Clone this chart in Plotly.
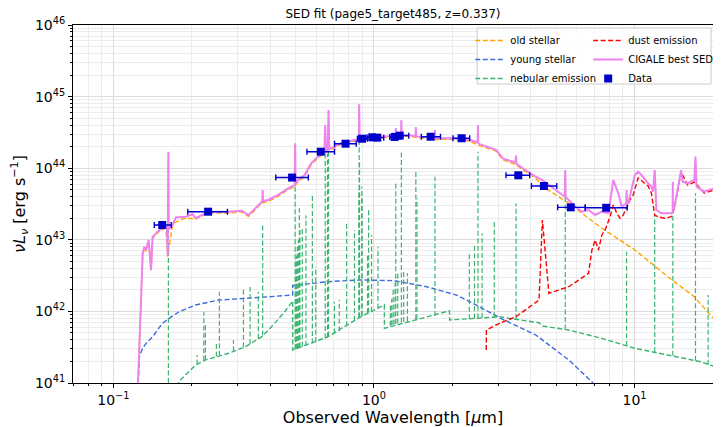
import plotly.graph_objects as go

# ---------------- data ----------------
# CIGALE best SED (violet)
cig_wl = [0.1235, 0.1259, 0.1278, 0.1296, 0.1315, 0.1335, 0.1366, 0.1395, 0.1414, 0.150,
          0.159, 0.1605, 0.1616, 0.1626, 0.1632, 0.168, 0.171, 0.1736, 0.1895, 0.2015,
          0.2068, 0.2324, 0.2768, 0.311, 0.330, 0.3498, 0.3705, 0.3729, 0.374, 0.3751,
          0.3928, 0.4288, 0.468, 0.4964, 0.4983, 0.500, 0.511, 0.5418, 0.574, 0.6085,
          0.645, 0.650, 0.655, 0.6645, 0.6694, 0.674, 0.7464, 0.8395, 0.8745, 0.8775,
          0.8805, 0.889, 0.943, 1.06, 1.191, 1.209, 1.2125, 1.216, 1.27, 1.274,
          1.278, 1.338, 1.444, 1.448, 1.452, 1.504, 1.709, 1.714, 1.719, 1.741,
          2.015, 2.33, 2.50, 2.507, 2.514, 2.543, 2.943, 3.12, 3.49, 3.507,
          3.525, 3.72, 4.18, 4.43, 4.98, 5.40, 5.42, 5.44, 5.93, 6.29,
          6.66, 7.06, 7.49, 7.94, 8.29, 8.66, 8.93, 9.28, 9.32, 9.36,
          9.46, 10.03, 10.32, 10.63, 11.27, 11.6, 11.77, 11.95, 12.13, 12.67,
          13.83, 14.0, 14.02, 14.04, 14.23, 14.87, 15.09, 15.3, 15.99, 16.96,
          17.13, 17.3, 18.5, 20.2]
cig_lum = [5e40, 4.0e41, 2.0e42, 6.5e42, 8.0e42, 7.2e42, 9.9e42, 3.8e42, 1.1e43, 1.37e43,
           1.52e43, 1.5e43, 6.1e42, 1.7e44, 1.4e43, 1.56e43, 1.8e43, 2.05e43, 2.1e43, 2.28e43,
           2.0e43, 2.47e43, 2.47e43, 2.55e43, 2.22e43, 2.75e43, 3.4e43, 3.45e43, 4.96e43, 3.48e43,
           3.6e43, 4.23e43, 5.24e43, 5.82e43, 2.23e44, 6.0e43, 6.84e43, 8.04e43, 1.17e44, 1.45e44,
           1.7e44, 4.0e44, 1.72e44, 1.8e44, 6.5e44, 1.85e44, 2.23e44, 2.48e44, 2.55e44, 7.8e44,
           2.56e44, 2.62e44, 2.75e44, 2.75e44, 2.82e44, 2.83e44, 3.64e44, 2.84e44, 2.88e44, 4.7e44,
           2.88e44, 2.91e44, 2.8e44, 3.76e44, 2.78e44, 2.75e44, 2.64e44, 3.42e44, 2.63e44, 2.62e44,
           2.62e44, 2.48e44, 2.3e44, 4.0e44, 2.25e44, 2.16e44, 1.8e44, 1.37e44, 1.2e44, 1.5e44,
           1.15e44, 9.97e43, 7.6e43, 6.84e43, 4.96e43, 4.0e43, 9.4e43, 3.95e43, 2.9e43, 2.47e43,
           2.61e43, 2.22e43, 2.47e43, 2.34e43, 6.84e43, 4.46e43, 2.9e43, 3.2e43, 4.96e43, 3.2e43,
           3.24e43, 8.04e43, 8.94e43, 8.04e43, 6.15e43, 5.52e43, 4.7e43, 9.4e43, 2.61e43, 2.34e43,
           2.34e43, 2.4e43, 6.48e43, 2.6e43, 2.9e43, 6.84e43, 9.4e43, 6.48e43, 6.15e43, 6.84e43,
           1.45e44, 5.52e43, 4.7e43, 5.24e43]

# old stellar (orange)
old_wl = [0.1235, 0.1259, 0.1278, 0.1296, 0.1315, 0.1335, 0.1366, 0.1395, 0.1414, 0.150,
          0.159, 0.1616, 0.168, 0.171, 0.1895, 0.2068, 0.2324, 0.2768, 0.311, 0.330,
          0.3498, 0.3705, 0.3928, 0.4288, 0.468, 0.4964, 0.511, 0.5418, 0.574, 0.6085,
          0.6452, 0.6645, 0.7464, 0.8395, 0.889, 0.943, 1.06, 1.191, 1.338, 1.504,
          1.741, 2.015, 2.33, 2.543, 2.943, 3.12, 3.507, 3.72, 4.18, 4.56,
          5.59, 7.49, 10.03, 13.42, 16.95, 20.2]
old_lum = [5e40, 3.9e41, 1.9e42, 6.2e42, 7.7e42, 6.9e42, 9.5e42, 3.6e42, 1.05e43, 1.32e43,
           1.46e43, 5.8e42, 1.48e43, 1.72e43, 2.02e43, 1.95e43, 2.38e43, 2.36e43, 2.45e43, 2.12e43,
           2.62e43, 3.25e43, 3.45e43, 4.05e43, 5.0e43, 5.55e43, 6.5e43, 7.65e43, 1.11e44, 1.38e44,
           1.62e44, 1.71e44, 2.14e44, 2.38e44, 2.5e44, 2.64e44, 2.66e44, 2.72e44, 2.8e44, 2.66e44,
           2.52e44, 2.53e44, 2.38e44, 2.07e44, 1.73e44, 1.32e44, 1.12e44, 9.5e43, 7.2e43, 5.24e43,
           3.24e43, 1.45e43, 7.2e42, 3.05e42, 1.6e42, 7.8e41]

# young stellar (blue)
young_wl = [0.1225, 0.1259, 0.1296, 0.1335, 0.1414, 0.1543, 0.1637, 0.1787, 0.2068, 0.2536,
            0.3204, 0.4875, 0.4876, 0.665, 0.889, 1.191, 1.595, 2.073, 2.33, 3.12,
            4.18, 5.59, 6.86, 7.3]
young_lum = [3e40, 2.33e41, 3.08e41, 3.58e41, 4.43e41, 6.82e41, 8.0e41, 9.9e41, 1.23e42, 1.44e42,
             1.52e42, 1.69e42, 2.3e42, 2.6e42, 2.75e42, 2.69e42, 2.21e42, 1.69e42, 1.37e42, 7.76e41,
             4.68e41, 2.1e41, 1.04e41, 7e40]

# nebular continuum (green)
neb_wl = [0.172, 0.1786, 0.2068, 0.2258, 0.2768, 0.3204, 0.3705, 0.4044, 0.4548, 0.4875,
          0.4876, 0.6645, 0.889, 1.096, 1.097, 1.595, 1.95, 1.951, 3.03, 4.30,
          4.43, 5.59, 7.49, 10.03, 13.42, 17.98, 20.2]
neb_lum = [7e40, 1.05e41, 1.78e41, 2.1e41, 2.6e41, 3.2e41, 4.4e41, 6.1e41, 9.9e41, 1.4e42,
           2.9e41, 4.4e41, 8.4e41, 1.23e42, 5.8e41, 8.4e41, 1.02e42, 7.6e41, 8.4e41, 6.95e41,
           6.25e41, 5.5e41, 4.2e41, 3.05e41, 2.46e41, 1.98e41, 1.7e41]

# nebular emission lines: wavelength, continuum level, peak
line_wl = [0.1626, 0.2096, 0.2224, 0.2255, 0.2485, 0.2552, 0.289, 0.3156, 0.3347, 0.360,
           0.374, 0.4983, 0.5014, 0.5042, 0.5078, 0.5127, 0.5173, 0.520, 0.5308, 0.5484,
           0.5803, 0.5978, 0.650, 0.663, 0.6694, 0.705, 0.736, 0.7856, 0.842, 0.8755,
           0.8775, 0.8803, 0.898, 0.900, 0.9446, 0.954, 0.979, 1.036, 1.156, 1.17,
           1.185, 1.205, 1.2125, 1.234, 1.274, 1.30, 1.3436, 1.448, 1.4624, 1.714,
           2.322, 2.431, 2.507, 2.60, 2.896, 3.51, 5.42, 9.32, 11.95, 14.02,
           17.13, 19.16]
line_base = [3e40, 1.82e41, 2.05e41, 2.1e41, 2.35e41, 2.4e41, 2.75e41, 3.15e41, 3.5e41, 4.15e41,
             4.6e41, 2.95e41, 2.97e41, 3.0e41, 3.02e41, 3.05e41, 3.1e41, 3.12e41, 3.2e41, 3.3e41,
             3.55e41, 3.7e41, 4.2e41, 4.35e41, 4.45e41, 4.9e41, 5.3e41, 6.2e41, 7.4e41, 8.1e41,
             8.2e41, 8.3e41, 8.6e41, 8.7e41, 9.4e41, 9.6e41, 1.0e42, 1.1e42, 6.3e41, 6.4e41,
             6.5e41, 6.6e41, 6.7e41, 6.8e41, 7.0e41, 7.1e41, 7.3e41, 7.7e41, 7.8e41, 8.6e41,
             7.8e41, 7.95e41, 8.0e41, 8.1e41, 8.3e41, 7.9e41, 5.6e41, 3.3e41, 2.72e41, 2.4e41,
             2.05e41, 1.8e41]
line_peak = [1.55e44, 2.46e41, 9.9e41, 6.8e41, 3.58e41, 1.88e42, 4.0e41, 2.0e42, 2.2e42, 1.88e42,
             1.6e43, 1.65e44, 5e42, 6e42, 8e42, 1.0e43, 2.75e43, 1.5e43, 1.52e43, 2.2e43,
             4.46e43, 4.2e42, 2.3e44, 1.6e44, 4.8e44, 1.36e42, 1.46e42, 1.79e43, 1.37e43, 5.0e43,
             5.2e44, 1.2e44, 5.5e43, 4.0e43, 6.5e42, 2.6e43, 1.17e43, 8e42, 1.3e42, 1.5e42,
             2e42, 2.5e42, 6.15e43, 3.5e42, 1.7e44, 3.8e42, 3.4e42, 9.4e43, 3.8e43, 7.6e43,
             6.5e42, 8.45e42, 1.7e44, 1.23e43, 1.89e43, 3.24e43, 6e43, 6.8e42, 2.22e43, 2.47e43,
             4.46e43, 1.7e42]

# dust emission (red)
dust_wl = [2.697, 2.70, 3.03, 3.507, 4.30, 4.43, 4.69, 5.59, 6.66, 6.86,
           7.06, 7.27, 7.49, 7.71, 8.05, 8.29, 8.55, 8.79, 9.05, 9.32,
           9.6, 9.88, 10.32, 11.27, 11.6, 11.95, 12.3, 13.04, 13.83, 14.23,
           15.09, 15.99, 16.96, 18.5, 20.2]
dust_lum = [2.89e41, 5.5e41, 6.82e41, 8.43e41, 1.44e42, 1.89e43, 1.79e42, 2.21e42, 3.4e42, 7.2e42,
            9.93e42, 7.2e42, 1.17e43, 1.37e43, 2.1e43, 3.06e43, 2.34e43, 2.0e43, 2.22e43, 2.9e43,
            3.6e43, 4.23e43, 7.3e43, 5.64e43, 4.5e43, 2.22e43, 2.1e43, 2.0e43, 2.1e43, 2.78e43,
            8.85e43, 5.82e43, 6.4e43, 4.5e43, 4.96e43]

# observed photometry
obs_wl = [0.154, 0.231, 0.485, 0.625, 0.778, 0.90, 0.985, 1.03, 1.20, 1.256,
          1.65, 2.17, 3.58, 4.49, 5.69, 7.78]
obs_lum = [1.61e43, 2.47e43, 7.4e43, 1.70e44, 2.2e44, 2.58e44, 2.7e44, 2.67e44, 2.73e44, 2.85e44,
           2.75e44, 2.62e44, 7.96e43, 5.64e43, 2.84e43, 2.8e43]
obs_wl_lo = [0.1436, 0.193, 0.42, 0.553, 0.706, 0.864, 0.94, 0.98, 1.15, 1.18,
             1.52, 2.01, 3.21, 4.02, 5.07, 6.47]
obs_wl_hi = [0.1667, 0.274, 0.56, 0.706, 0.855, 0.943, 1.04, 1.09, 1.26, 1.36,
             1.80, 2.33, 3.96, 5.03, 6.47, 9.37]
obs_err_frac = 0.05

x_tickvals = [0.1, 1, 10]
x_ticktext = ["10<sup>\u22121</sup>", "10<sup>0</sup>", "10<sup>1</sup>"]
y_tickvals = [1e41, 1e42, 1e43, 1e44, 1e45, 1e46]
y_ticktext = ["10<sup>41</sup>", "10<sup>42</sup>", "10<sup>43</sup>",
              "10<sup>44</sup>", "10<sup>45</sup>", "10<sup>46</sup>"]

for a, b in [(cig_wl, cig_lum), (old_wl, old_lum), (young_wl, young_lum), (neb_wl, neb_lum),
             (line_wl, line_base), (line_wl, line_peak), (dust_wl, dust_lum), (obs_wl, obs_lum)]:
    assert len(a) == len(b), (len(a), len(b))

# ---------------- figure ----------------
DASH = "5px,2.5px"
FONT = "DejaVu Sans"
LW = 1.4

# page body has an 8px margin: figure is sized so the plot lands where the reference has it
W, H = 713, 419
ML, MR, MT, MB = 65, 2, 17, 44
PW, PH = W - ML - MR, H - MT - MB


def px_x(x):
    return (x - ML) / PW


def px_y(y):
    return 1 - (y - MT) / PH


fig = go.Figure()

fig.add_trace(go.Scatter(x=old_wl, y=old_lum, mode="lines", name="old stellar",
                         line=dict(color="orange", width=LW, dash=DASH), legend="legend"))
fig.add_trace(go.Scatter(x=young_wl, y=young_lum, mode="lines", name="young stellar",
                         line=dict(color="royalblue", width=LW, dash=DASH), legend="legend"))

lx, ly = [], []
for w, b0, p in zip(line_wl, line_base, line_peak):
    lx += [w, w, None]
    ly += [b0, p, None]
fig.add_trace(go.Scatter(x=neb_wl, y=neb_lum, mode="lines", name="nebular emission",
                         legendgroup="neb", legend="legend",
                         line=dict(color="mediumseagreen", width=LW, dash=DASH)))
fig.add_trace(go.Scatter(x=lx, y=ly, mode="lines", name="nebular emission", showlegend=False,
                         legendgroup="neb", legend="legend", connectgaps=False,
                         line=dict(color="mediumseagreen", width=1.2, dash=DASH)))

fig.add_trace(go.Scatter(x=dust_wl, y=dust_lum, mode="lines", name="dust emission",
                         line=dict(color="red", width=LW, dash=DASH), legend="legend2"))
fig.add_trace(go.Scatter(x=cig_wl, y=cig_lum, mode="lines", name="CIGALE best SED",
                         line=dict(color="violet", width=2), legend="legend2"))

fig.add_trace(go.Scatter(
    x=obs_wl, y=obs_lum, mode="markers", name="Data", legend="legend2",
    marker=dict(symbol="square", size=8, color="#0000cd"),
    error_x=dict(type="data", symmetric=False,
                 array=[h - w for w, h in zip(obs_wl, obs_wl_hi)],
                 arrayminus=[w - l for w, l in zip(obs_wl, obs_wl_lo)],
                 color="#0000cd", thickness=1.4, width=3),
    error_y=dict(type="data", array=[v * obs_err_frac for v in obs_lum],
                 color="#0000cd", thickness=1.4, width=3),
))

x_minor = [m * 10.0 ** e for e in range(-2, 2) for m in range(2, 10)]
y_minor = [m * 10.0 ** e for e in range(41, 46) for m in range(2, 10)]

leg_common = dict(orientation="v", yanchor="top", xanchor="left",
                  bgcolor="rgba(0,0,0,0)", borderwidth=0, itemwidth=30,
                  font=dict(size=10, color="black", family=FONT), tracegroupgap=0)

fig.update_layout(
    width=W, height=H,
    margin=dict(l=ML, r=MR, t=MT, b=MB),
    paper_bgcolor="white", plot_bgcolor="white",
    font=dict(family=FONT, color="black"),
    title=dict(text="SED fit (page5_target485, z=0.337)", x=0.5, xref="paper",
               y=1 - 6 / H, yanchor="middle", font=dict(size=12, color="black")),
    showlegend=True,
    legend=dict(x=px_x(466), y=0.997, **leg_common),
    legend2=dict(x=px_x(585), y=0.997, **leg_common),
    shapes=[dict(type="rect", xref="paper", yref="paper", layer="above",
                 x0=px_x(473), x1=px_x(709), y0=px_y(20), y1=px_y(76),
                 fillcolor="rgba(255,255,255,0.85)",
                 line=dict(color="#cccccc", width=1))],
)

fig.update_xaxes(
    type="log", range=[-1.1549, 1.3010],
    tickmode="array", tickvals=x_tickvals, ticktext=x_ticktext,
    ticks="outside", ticklen=4, tickcolor="black", tickfont=dict(size=14),
    showline=True, linecolor="black", linewidth=1, mirror=True,
    showgrid=True, gridcolor="#dcdcdc", gridwidth=1, zeroline=False,
    minor=dict(tickmode="array", tickvals=x_minor, ticks="outside", ticklen=2,
               tickcolor="black", showgrid=True, gridcolor="#ececec", gridwidth=1),
    title=dict(text="Observed Wavelength [<i>\u03bc</i>m]", font=dict(size=16), standoff=0),
)
fig.update_yaxes(
    type="log", range=[41, 46],
    tickmode="array", tickvals=y_tickvals, ticktext=y_ticktext,
    ticks="outside", ticklen=4, tickcolor="black", tickfont=dict(size=14),
    showline=True, linecolor="black", linewidth=1, mirror=True,
    showgrid=True, gridcolor="#dcdcdc", gridwidth=1, zeroline=False,
    minor=dict(tickmode="array", tickvals=y_minor, ticks="outside", ticklen=2,
               tickcolor="black", showgrid=True, gridcolor="#ececec", gridwidth=1),
    title=dict(text="<i>\u03bdL<sub>\u03bd</sub></i> [erg s<sup>\u22121</sup>]",
               font=dict(size=16), standoff=6),
)

fig.write_html("out.html")
